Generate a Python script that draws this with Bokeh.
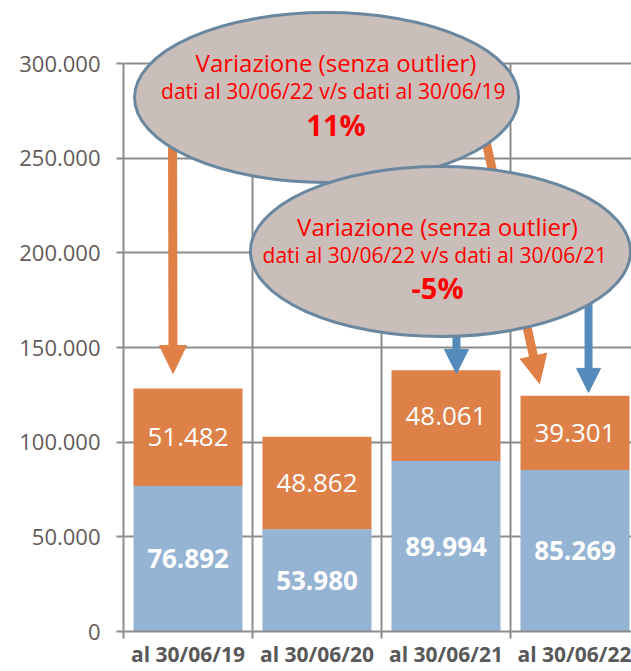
import math
from bokeh.plotting import figure
from bokeh.models import Range1d, FixedTicker, ColumnDataSource
from bokeh.core.properties import value
from bokeh.embed import file_html
from bokeh.resources import INLINE

# ---------------- data ----------------
categories = ["al 30/06/19", "al 30/06/20", "al 30/06/21", "al 30/06/22"]
base_values = [76892, 53980, 89994, 85269]        # blue (lower segment)
outlier_values = [51482, 48862, 48061, 39301]     # orange (upper segment)
y_ticks = [0, 50000, 100000, 150000, 200000, 250000, 300000]
y_tick_labels = ["0", "50.000", "100.000", "150.000", "200.000", "250.000", "300.000"]

callout_titles = ["Variazione (senza outlier)", "Variazione (senza outlier)"]
callout_subtitles = ["dati al 30/06/22  v/s dati al 30/06/19",
                     "dati al 30/06/22  v/s dati al 30/06/21"]
callout_values = ["11%", "-5%"]

# callout ellipses (data coords): centre x, centre y, width, height
ell_x = [1.574, 2.457]
ell_y = [282100, 200700]
ell_w = [2.977, 2.946]
ell_h = [89800, 89800]
# callout text anchor (x, vertical centres of the three lines)
txt_x = [1.647, 2.434]
txt_y1 = [300600, 213900]
txt_y2 = [285700, 199000]
txt_y3 = [267700, 181600]

# arrows: start (x0, y0) -> tip (x1, y1)
arr_x0 = [0.380, 2.791, 2.581, 3.605]
arr_y0 = [259400, 264700, 174900, 185400]
arr_x1 = [0.384, 3.225, 2.581, 3.605]
arr_y1 = [136300, 131000, 136300, 126300]
arr_color = ["#df8046", "#df8046", "#548bba", "#548bba"]

# ---------------- styling / layout ----------------
ORANGE = "#de8148"
BLUE = "#95b3d2"
GRID = "#8c8c8c"
FIG_W, FIG_H = 631, 671
BORDER_L, BORDER_B = 123, 40
X_END = 3.938
Y_END = 333300
FRAME_W = FIG_W - BORDER_L
FRAME_H = FIG_H - BORDER_B
kx = FRAME_W / X_END      # px per x unit
ky = FRAME_H / Y_END      # px per y unit

p = figure(width=FIG_W, height=FIG_H,
           x_range=Range1d(0, X_END), y_range=Range1d(0, Y_END),
           output_backend="svg", toolbar_location=None,
           min_border_left=BORDER_L, min_border_right=0,
           min_border_top=0, min_border_bottom=BORDER_B)
p.outline_line_color = None
p.background_fill_color = "white"
p.border_fill_color = "white"

n = len(categories)
centers = [i + 0.5 for i in range(n)]
bounds = list(range(n))

# x axis
p.xaxis.ticker = FixedTicker(ticks=centers, minor_ticks=bounds)
p.xaxis.major_label_overrides = {c: lab for c, lab in zip(centers, categories)}
p.xaxis.major_tick_out = 0
p.xaxis.major_tick_in = 0
p.xaxis.minor_tick_out = 7
p.xaxis.minor_tick_in = 0
p.xaxis.minor_tick_line_color = GRID
p.xaxis.minor_tick_line_width = 2
p.xaxis.axis_line_color = GRID
p.xaxis.axis_line_width = 2
p.xaxis.major_label_standoff = 1
p.xaxis.major_label_text_font = "Open Sans"
p.xaxis.major_label_text_font_style = "bold"
p.xaxis.major_label_text_font_size = "21px"
p.xaxis.major_label_text_color = "#595959"

# y axis
p.yaxis.ticker = FixedTicker(ticks=y_ticks, minor_ticks=[])
p.yaxis.major_label_overrides = {t: lab for t, lab in zip(y_ticks, y_tick_labels)}
p.yaxis.bounds = (0, y_ticks[-1])
p.yaxis.major_tick_out = 7
p.yaxis.major_tick_in = 0
p.yaxis.major_tick_line_color = GRID
p.yaxis.major_tick_line_width = 2
p.yaxis.axis_line_color = GRID
p.yaxis.axis_line_width = 2
p.yaxis.major_label_standoff = 16
p.yaxis.major_label_text_font = "Open Sans"
p.yaxis.major_label_text_font_size = "22px"
p.yaxis.major_label_text_color = "#635a5a"

p.xgrid.visible = False
p.ygrid.grid_line_color = GRID
p.ygrid.grid_line_width = 2

# vertical separators between categories
sep = bounds[1:] + [n]
p.segment(x0=sep, y0=[0] * len(sep), x1=sep, y1=[y_ticks[-1]] * len(sep),
          line_color=GRID, line_width=2)

# stacked bars
tops = [b + o for b, o in zip(base_values, outlier_values)]
src = ColumnDataSource(dict(x=centers, base=base_values, top=tops,
                            zero=[0] * n))
p.vbar(x="x", width=0.845, bottom="zero", top="base", source=src,
       fill_color=BLUE, line_color=None)
p.vbar(x="x", width=0.845, bottom="base", top="top", source=src,
       fill_color=ORANGE, line_color=None)

def fmt(v):
    return f"{v:,}".replace(",", ".")

p.text(x=centers, y=[b / 2 for b in base_values],
       text=[fmt(v) for v in base_values],
       text_font=value("Open Sans"), text_font_style="bold",
       text_font_size=value("26px"), text_color="white",
       text_align="center", text_baseline="middle")
p.text(x=centers, y=[b + o / 2 for b, o in zip(base_values, outlier_values)],
       text=[fmt(v) for v in outlier_values],
       text_font=value("Open Sans"),
       text_font_size=value("26px"), text_color="white",
       text_align="center", text_baseline="middle")

# arrows (shaft + triangular head), computed in screen space
head_len = [28, 28, 24, 24]
head_half = [13.5, 13.5, 12, 12]
shaft_w = [9, 9, 8, 8]
for x0, y0, x1, y1, col, L, W, sw in zip(arr_x0, arr_y0, arr_x1, arr_y1,
                                         arr_color, head_len, head_half, shaft_w):
    dx, dy = (x1 - x0) * kx, (y1 - y0) * ky
    d = math.hypot(dx, dy)
    ux, uy = dx / d, dy / d
    bx, by = x1 * kx - L * ux, y1 * ky - L * uy
    px_, py_ = -uy, ux
    hx = [x1 * kx, bx + W * px_, bx - W * px_]
    hy = [y1 * ky, by + W * py_, by - W * py_]
    sx = (x1 * kx - (L - 2) * ux) / kx
    sy = (y1 * ky - (L - 2) * uy) / ky
    p.segment(x0=[x0], y0=[y0], x1=[sx], y1=[sy], line_color=col,
              line_width=sw, line_cap="butt")
    p.patch(x=[v / kx for v in hx], y=[v / ky for v in hy],
            fill_color=col, line_color=col, line_width=1)

# callout ellipses
p.ellipse(x=ell_x[:1], y=ell_y[:1], width=ell_w[:1], height=ell_h[:1],
          fill_color="#c9beb9", line_color="#6a87a0", line_width=3)
p.ellipse(x=ell_x[1:], y=ell_y[1:], width=ell_w[1:], height=ell_h[1:],
          fill_color="#c9beb9", line_color="#6a87a0", line_width=3)

p.text(x=txt_x, y=txt_y1, text=callout_titles,
       text_font=value("Open Sans"), text_font_size=value("24px"),
       text_color="#ff0000", text_align="center", text_baseline="middle")
p.text(x=txt_x, y=txt_y2, text=callout_subtitles,
       text_font=value("Open Sans"), text_font_size=value("21px"),
       text_color="#ff0000", text_align="center", text_baseline="middle")
p.text(x=txt_x, y=txt_y3, text=callout_values,
       text_font=value("Open Sans"), text_font_style="bold",
       text_font_size=value("29px"),
       text_color="#ff0000", text_align="center", text_baseline="middle")

open("out.html", "w").write(file_html(p, INLINE))
